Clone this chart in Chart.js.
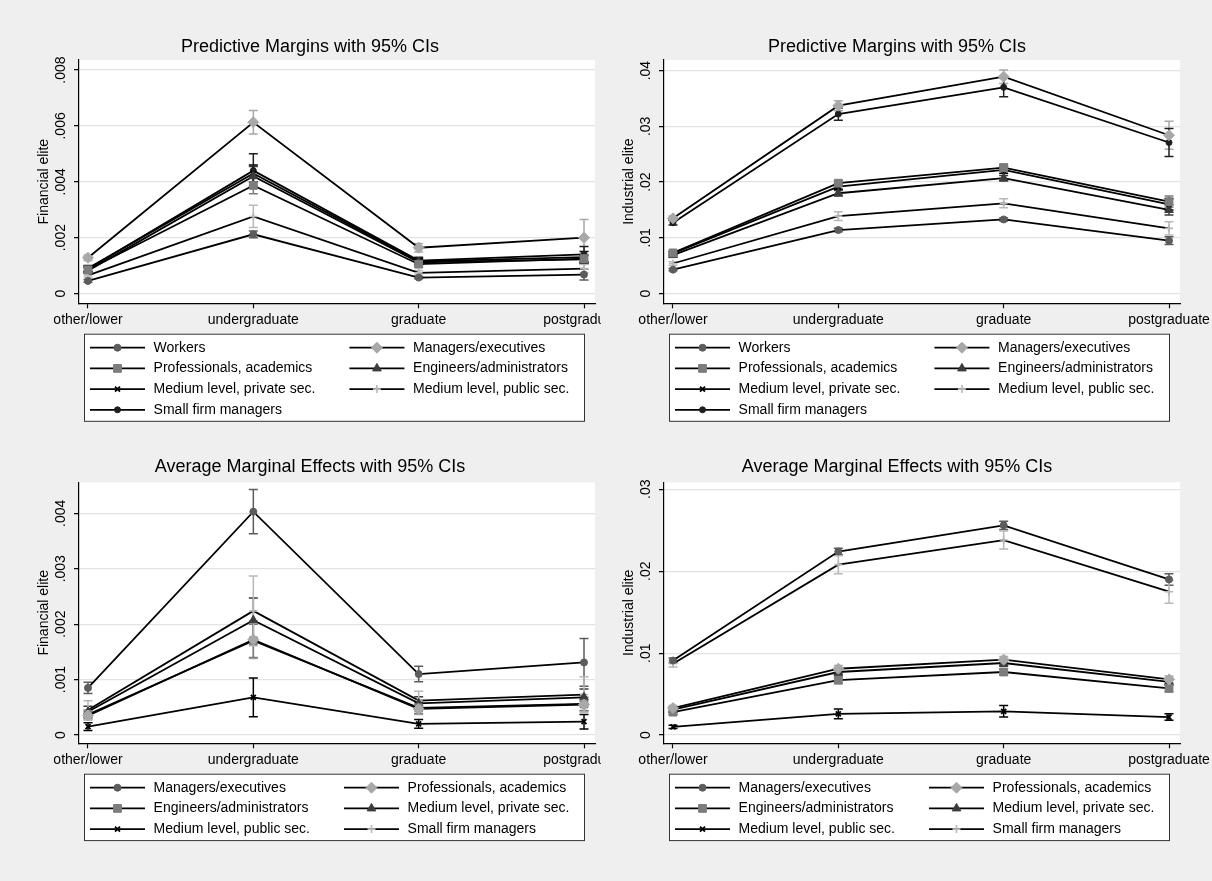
<!DOCTYPE html>
<html><head><meta charset="utf-8">
<script src="https://cdn.jsdelivr.net/npm/chart.js@4.4.0/dist/chart.umd.min.js"></script>
<style>
html,body{margin:0;padding:0;background:#efefef;width:1212px;height:881px;overflow:hidden;}
.panel{position:absolute;overflow:hidden;}
.panel canvas{position:absolute;}
</style></head><body>
<div class="panel" style="left:0;top:0;width:601px;height:440px"><canvas id="c1" width="680" height="440" style="left:0;top:0;width:680px;height:440px"></canvas></div>
<div class="panel" style="left:601px;top:0;width:611px;height:440px"><canvas id="c2" width="680" height="440" style="left:-16px;top:0;width:680px;height:440px"></canvas></div>
<div class="panel" style="left:0;top:440px;width:601px;height:441px"><canvas id="c3" width="680" height="461" style="left:0;top:-20px;width:680px;height:461px"></canvas></div>
<div class="panel" style="left:601px;top:440px;width:611px;height:441px"><canvas id="c4" width="680" height="461" style="left:-16px;top:-20px;width:680px;height:461px"></canvas></div>
<script>
// ---------- DATA ----------
const categories = ['other/lower', 'undergraduate', 'graduate', 'postgraduate'];
const pmGroups = ['Workers', 'Managers/executives', 'Professionals, academics', 'Engineers/administrators',
  'Medium level, private sec.', 'Medium level, public sec.', 'Small firm managers'];
const ameGroups = ['Managers/executives', 'Professionals, academics', 'Engineers/administrators',
  'Medium level, private sec.', 'Medium level, public sec.', 'Small firm managers'];

// Financial elite, predictive margins (estimate per category) and CI half-widths
const finPM = [
  [0.00045, 0.00212, 0.00057, 0.00068],
  [0.00128, 0.00613, 0.00164, 0.00200],
  [0.00085, 0.00387, 0.00105, 0.00125],
  [0.00082, 0.00420, 0.00112, 0.00122],
  [0.00090, 0.00430, 0.00115, 0.00130],
  [0.00065, 0.00276, 0.00074, 0.00089],
  [0.00088, 0.00440, 0.00118, 0.00140]
];
const finPMci = [
  [0.00005, 0.00012, 0.00004, 0.00020],
  [0.00010, 0.00042, 0.00015, 0.00065],
  [0.00008, 0.00030, 0.00010, 0.00015],
  [0.00010, 0.00035, 0.00010, 0.00015],
  [0.00010, 0.00030, 0.00010, 0.00020],
  [0.00007, 0.00040, 0.00008, 0.00015],
  [0.00010, 0.00060, 0.00012, 0.00028]
];
// Industrial elite, predictive margins
const indPM = [
  [0.0043, 0.0114, 0.0133, 0.0095],
  [0.0135, 0.0337, 0.0389, 0.0284],
  [0.0073, 0.0198, 0.0226, 0.0165],
  [0.0069, 0.0180, 0.0207, 0.0150],
  [0.0072, 0.0192, 0.0222, 0.0160],
  [0.0054, 0.0139, 0.0162, 0.0117],
  [0.0127, 0.0322, 0.0370, 0.0271]
];
const indPMci = [
  [0.0002, 0.0003, 0.0003, 0.0007],
  [0.0004, 0.0009, 0.0012, 0.0025],
  [0.0003, 0.0005, 0.0006, 0.0010],
  [0.0003, 0.0005, 0.0005, 0.0009],
  [0.0003, 0.0005, 0.0006, 0.0010],
  [0.0003, 0.0008, 0.0008, 0.0012],
  [0.0004, 0.0011, 0.0017, 0.0025]
];
// Financial elite, average marginal effects
const finAME = [
  [0.00085, 0.00403, 0.00110, 0.00131],
  [0.00035, 0.00172, 0.00047, 0.00055],
  [0.00037, 0.00170, 0.00049, 0.00056],
  [0.00042, 0.00207, 0.00057, 0.00068],
  [0.00015, 0.00068, 0.00020, 0.00024],
  [0.00045, 0.00224, 0.00062, 0.00073]
];
const finAMEci = [
  [0.00010, 0.00040, 0.00014, 0.00043],
  [0.00008, 0.00034, 0.00010, 0.00012],
  [0.00008, 0.00030, 0.00010, 0.00012],
  [0.00010, 0.00040, 0.00012, 0.00015],
  [0.00007, 0.00035, 0.00008, 0.00013],
  [0.00017, 0.00063, 0.00017, 0.00032]
];
// Industrial elite, average marginal effects
const indAME = [
  [0.0091, 0.0224, 0.0256, 0.0190],
  [0.0033, 0.0081, 0.0092, 0.0068],
  [0.0028, 0.0067, 0.0077, 0.0057],
  [0.0031, 0.0077, 0.0088, 0.0065],
  [0.0010, 0.0026, 0.0029, 0.0022],
  [0.0087, 0.0208, 0.0238, 0.0175]
];
const indAMEci = [
  [0.0003, 0.0004, 0.0005, 0.0007],
  [0.0003, 0.0004, 0.0004, 0.0004],
  [0.0003, 0.0004, 0.0004, 0.0004],
  [0.0003, 0.0004, 0.0004, 0.0004],
  [0.0002, 0.0006, 0.0007, 0.0004],
  [0.0004, 0.0011, 0.0011, 0.0014]
];

const finPMTicks = [0, 0.002, 0.004, 0.006, 0.008];
const finPMTickLabels = ['0', '.002', '.004', '.006', '.008'];
const indPMTicks = [0, 0.01, 0.02, 0.03, 0.04];
const indPMTickLabels = ['0', '.01', '.02', '.03', '.04'];
const finAMETicks = [0, 0.001, 0.002, 0.003, 0.004];
const finAMETickLabels = ['0', '.001', '.002', '.003', '.004'];
const indAMETicks = [0, 0.01, 0.02, 0.03];
const indAMETickLabels = ['0', '.01', '.02', '.03'];

// ---------- STYLE ----------
const FONT = '"Liberation Sans", Arial, sans-serif';
const markers = [
  { style: 'circle',   color: '#5c5c5c', r: 3.5, bw: 1 },
  { style: 'rectRot',  color: '#a8a8a8', r: 5.5, bw: 1 },
  { style: 'rect',     color: '#7c7c7c', r: 5.5, bw: 1 },
  { style: 'triangle', color: '#3c3c3c', r: 5,   bw: 1 },
  { style: 'crossRot', color: '#000000', r: 3.5, bw: 1.8 },
  { style: 'cross',    color: '#b8b8b8', r: 4,   bw: 1.6 },
  { style: 'circle',   color: '#1e1e1e', r: 3,   bw: 1 }
];

const decor = {
  id: 'decor',
  beforeDraw(chart) {
    const { ctx, chartArea: a } = chart;
    ctx.save();
    ctx.fillStyle = '#efefef';
    ctx.fillRect(0, 0, chart.width, chart.height);
    ctx.fillStyle = '#ffffff';
    ctx.fillRect(a.left, a.top, a.right - a.left, a.bottom - a.top);
    ctx.restore();
  },
  beforeDatasetsDraw(chart) {
    const { ctx } = chart;
    const xs = chart.scales.x, ys = chart.scales.y;
    ctx.save();
    chart.data.datasets.forEach((ds, i) => {
      const m = markers[i];
      ctx.strokeStyle = m.color;
      ctx.lineWidth = 1.5;
      ds.ci.forEach((h, j) => {
        const est = ds.data[j].y;
        const px = xs.getPixelForValue(j);
        const lo = ys.getPixelForValue(est - h), hi = ys.getPixelForValue(est + h);
        ctx.beginPath();
        ctx.moveTo(px, lo); ctx.lineTo(px, hi);
        ctx.moveTo(px - 4.5, lo); ctx.lineTo(px + 4.5, lo);
        ctx.moveTo(px - 4.5, hi); ctx.lineTo(px + 4.5, hi);
        ctx.stroke();
      });
    });
    ctx.restore();
  },
  afterDraw(chart) {
    const { ctx, chartArea: a } = chart;
    const o = chart.options.plugins.decor;
    const ys = chart.scales.y;
    ctx.save();
    ctx.fillStyle = '#000';
    // title
    ctx.font = '18px ' + FONT;
    ctx.textAlign = 'center'; ctx.textBaseline = 'middle';
    ctx.fillText(o.title, o.titleX, 47);
    // y tick labels (vertical) & y title
    ctx.font = '14px ' + FONT;
    o.tickVals.forEach((v, k) => {
      const py = ys.getPixelForValue(v);
      ctx.save();
      ctx.translate(a.left - 18, py);
      ctx.rotate(-Math.PI / 2);
      ctx.fillText(o.tickLabels[k], 0, 0);
      ctx.restore();
    });
    ctx.save();
    ctx.translate(a.left - 34.5, (a.top + a.bottom) / 2);
    ctx.rotate(-Math.PI / 2);
    ctx.fillText(o.yTitle, 0, 0);
    ctx.restore();
    // legend
    const dss = chart.data.datasets;
    const nRows = Math.ceil(dss.length / 2);
    const row0 = a.bottom + 44.4, rowH = 20.7;
    const boxL = a.left + 5, boxR = a.left + 505;
    const boxT = row0 - 14, boxB = row0 + (nRows - 1) * rowH + 11;
    ctx.fillStyle = '#fff';
    ctx.fillRect(boxL, boxT, boxR - boxL, boxB - boxT);
    ctx.strokeStyle = '#333'; ctx.lineWidth = 1;
    ctx.strokeRect(boxL + 0.5, boxT + 0.5, boxR - boxL, boxB - boxT);
    ctx.font = '14px ' + FONT;
    let maxW = 0;
    dss.forEach((ds, i) => { if (i % 2 === 0) maxW = Math.max(maxW, ctx.measureText(ds.label).width); });
    const col1Line = a.left + 11, col1Text = a.left + 74.6;
    const col2Line = col1Text + maxW + 34, col2Text = col2Line + 63.6;
    dss.forEach((ds, i) => {
      const m = markers[i];
      const row = Math.floor(i / 2);
      const y = row0 + row * rowH;
      const lx = i % 2 === 0 ? col1Line : col2Line;
      const tx = i % 2 === 0 ? col1Text : col2Text;
      ctx.strokeStyle = '#000'; ctx.lineWidth = 1.7;
      ctx.beginPath(); ctx.moveTo(lx, y); ctx.lineTo(lx + 55, y); ctx.stroke();
      ctx.fillStyle = m.color; ctx.strokeStyle = m.color; ctx.lineWidth = m.bw;
      Chart.helpers.drawPoint(ctx, { pointStyle: m.style, radius: m.r, rotation: 0, borderWidth: m.bw }, lx + 27.5, y);
      ctx.fillStyle = '#000';
      ctx.textAlign = 'left'; ctx.textBaseline = 'middle';
      ctx.fillText(ds.label, tx, y);
    });
    ctx.restore();
  }
};

function makePanel(id, groups, est, ci, tickVals, tickLabels, yMin, yMax, yTitle, title, titleX, padTop, padBottom) {
  const datasets = groups.map((g, i) => ({
    label: g,
    data: est[i].map((v, j) => ({ x: j, y: v })),
    ci: ci[i],
    borderColor: '#000', borderWidth: 1.8,
    pointStyle: markers[i].style, pointRadius: markers[i].r, pointHoverRadius: markers[i].r,
    pointBackgroundColor: markers[i].color, pointBorderColor: markers[i].color,
    pointBorderWidth: markers[i].bw,
    tension: 0, fill: false
  }));
  new Chart(document.getElementById(id), {
    type: 'line',
    data: { datasets },
    plugins: [decor],
    options: {
      responsive: false, animation: false, devicePixelRatio: 1,
      layout: { padding: { left: 74, right: 85, top: padTop, bottom: padBottom } },
      plugins: {
        legend: { display: false }, tooltip: { enabled: false },
        title: { display: false, text: title },
        decor: { title, titleX, tickVals, tickLabels, yTitle }
      },
      scales: {
        x: {
          type: 'linear', min: -0.0544, max: 3.0665,
          afterBuildTicks: s => { s.ticks = categories.map((c, i) => ({ value: i })); },
          afterFit: s => { s.height = 30; },
          ticks: {
            callback: v => categories[Math.round(v)],
            autoSkip: false, maxRotation: 0, minRotation: 0, padding: 3,
            color: '#000', font: { size: 14, family: FONT }
          },
          grid: { drawOnChartArea: false, drawTicks: true, tickLength: 5, tickColor: '#000', tickWidth: 1.2 },
          border: { display: true, color: '#000', width: 1.2 }
        },
        y: {
          type: 'linear', min: yMin, max: yMax,
          afterBuildTicks: s => { s.ticks = tickVals.map(v => ({ value: v })); },
          afterFit: s => { s.width = 5; },
          ticks: { display: false },
          grid: { color: '#e2e2e2', lineWidth: 1.3, drawTicks: true, tickLength: 5, tickColor: '#000', tickWidth: 1.2 },
          border: { display: true, color: '#000', width: 1.2 }
        }
      }
    }
  });
}

makePanel('c1', pmGroups, finPM, finPMci, finPMTicks, finPMTickLabels, -0.00035, 0.00836,
  'Financial elite', 'Predictive Margins with 95% CIs', 310, 60, 106.7);
makePanel('c2', pmGroups, indPM, indPMci, indPMTicks, indPMTickLabels, -0.00174, 0.0419,
  'Industrial elite', 'Predictive Margins with 95% CIs', 312, 60, 106.7);
makePanel('c3', ameGroups, finAME, finAMEci, finAMETicks, finAMETickLabels, -0.00015, 0.00456,
  'Financial elite', 'Average Marginal Effects with 95% CIs', 310, 62.3, 107.7);
makePanel('c4', ameGroups, indAME, indAMEci, indAMETicks, indAMETickLabels, -0.0010, 0.03085,
  'Industrial elite', 'Average Marginal Effects with 95% CIs', 312, 62.3, 107.7);
</script>
</body></html>
